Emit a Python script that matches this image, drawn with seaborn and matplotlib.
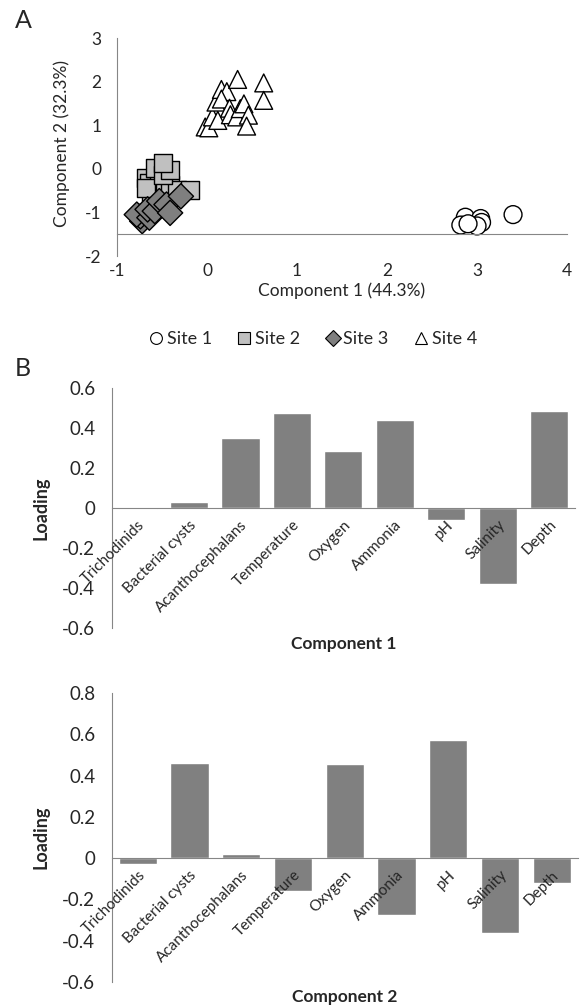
import matplotlib
matplotlib.use('Agg')
import matplotlib.pyplot as plt
import seaborn as sns
import pandas as pd
import numpy as np
from matplotlib.lines import Line2D
from matplotlib.ticker import FuncFormatter

# Panel A: PCA scores per site
site1_x = [2.87, 2.82, 3.04, 3.05, 3.40, 3.00, 2.90]
site1_y = [-1.11, -1.29, -1.14, -1.23, -1.05, -1.31, -1.26]
site2_x = [-0.68, -0.64, -0.62, -0.58, -0.53, -0.68, -0.47, -0.41, -0.33, -0.19, -0.58, -0.49, -0.41, -0.49]
site2_y = [-0.21, -0.33, -0.55, -0.44, -0.29, -0.44, -0.48, -0.36, -0.48, -0.48, 0.02, -0.14, -0.02, 0.13]
site3_x = [-0.72, -0.74, -0.78, -0.64, -0.66, -0.58, -0.53, -0.45, -0.41, -0.29]
site3_y = [-1.20, -1.09, -1.05, -1.12, -0.93, -0.97, -0.74, -0.82, -1.01, -0.63]
site4_x = [-0.02, 0.02, 0.06, 0.12, 0.10, 0.16, 0.22, 0.16, 0.25, 0.26, 0.33, 0.37, 0.41, 0.46, 0.44, 0.34, 0.63, 0.63]
site4_y = [0.96, 0.94, 1.19, 1.11, 1.53, 1.82, 1.77, 1.60, 1.39, 1.24, 1.19, 1.38, 1.49, 1.23, 0.98, 2.05, 1.97, 1.57]

sites = ['Site 1', 'Site 2', 'Site 3', 'Site 4']
site_colors = {'Site 1': 'white', 'Site 2': '#c0c0c0', 'Site 3': '#7f7f7f', 'Site 4': 'white'}
site_markers = {'Site 1': 'o', 'Site 2': 's', 'Site 3': 'D', 'Site 4': '^'}

# Panel B: loadings
variables = ['Trichodinids', 'Bacterial cysts', 'Acanthocephalans', 'Temperature',
             'Oxygen', 'Ammonia', 'pH', 'Salinity', 'Depth']
loading_c1 = [-0.005, 0.028, 0.352, 0.473, 0.287, 0.438, -0.058, -0.378, 0.483]
loading_c2 = [-0.028, 0.463, 0.021, -0.157, 0.458, -0.274, 0.571, -0.365, -0.122]

sns.set_style('white')
plt.rcParams['font.family'] = ['Lato', 'DejaVu Sans']
plt.rcParams['axes.unicode_minus'] = False
axis_grey = '#868686'

scores = pd.DataFrame({
    'pc1': site1_x + site2_x + site3_x + site4_x,
    'pc2': site1_y + site2_y + site3_y + site4_y,
    'site': ['Site 1'] * len(site1_x) + ['Site 2'] * len(site2_x)
            + ['Site 3'] * len(site3_x) + ['Site 4'] * len(site4_x),
})

fig = plt.figure(figsize=(5.8, 10.08), dpi=100)

# ---- Panel A: score plot
ax = fig.add_axes([0.2017, 0.746, 0.776, 0.2163])
sns.scatterplot(data=scores, x='pc1', y='pc2', hue='site', style='site',
                palette=site_colors, markers=site_markers, s=165,
                edgecolor='black', linewidth=1, legend=False, ax=ax)
ax.set_xlim(-1, 4)
ax.set_ylim(-2, 3)
ax.set_xticks(range(-1, 5))
ax.set_yticks(range(-2, 4))
for side in ['top', 'right']:
    ax.spines[side].set_visible(False)
ax.spines['bottom'].set_position(('data', -1.5))
for side in ['left', 'bottom']:
    ax.spines[side].set_color(axis_grey)
ax.tick_params(axis='both', direction='out', length=5, color=axis_grey, labelsize=12.5)
ax.tick_params(axis='x', pad=16)
ax.tick_params(axis='y', pad=6)
ax.set_xlabel('Component 1 (44.3%)', fontsize=12.5)
ax.set_ylabel('Component 2 (32.3%)', fontsize=12.5)
ax.xaxis.set_label_coords(0.5, -0.12)
ax.yaxis.set_label_coords(-0.105, 0.518)
fig.text(15 / 580, 1 - 20 / 1008, 'A', fontsize=18, ha='left', va='center')

handles = [Line2D([], [], linestyle='none', marker=site_markers[s], markersize=8.5,
                  markerfacecolor=site_colors[s], markeredgecolor='black',
                  markeredgewidth=0.8) for s in sites]
fig.legend(handles, sites, loc='center', bbox_to_anchor=(312 / 580, 1 - 339 / 1008),
           ncol=4, frameon=False, fontsize=13, handletextpad=0.1,
           columnspacing=1.3, handlelength=1.0)

fig.text(15 / 580, 1 - 368 / 1008, 'B', fontsize=18, ha='left', va='center')


def loading_panel(rect, values, ylim, yticks, xlabel, xlabel_y):
    bax = fig.add_axes(rect)
    sns.barplot(x=variables, y=values, color='#808080', saturation=1, width=0.74, ax=bax)
    bax.set_axisbelow(False)
    bax.set_xlim(-0.5, len(variables) - 0.5)
    bax.set_ylim(*ylim)
    bax.set_yticks(yticks)
    bax.yaxis.set_major_formatter(FuncFormatter(lambda v, p: '0' if abs(v) < 1e-9 else f'{v:.1f}'))
    for side in ['top', 'right']:
        bax.spines[side].set_visible(False)
    bax.spines['bottom'].set_position(('data', 0))
    for side in ['left', 'bottom']:
        bax.spines[side].set_color(axis_grey)
    bax.tick_params(axis='y', direction='out', length=4, color=axis_grey, labelsize=13.5, pad=8)
    bax.set_xticks(np.arange(len(variables)))
    bax.set_xticklabels(variables, rotation=45, ha='right', rotation_mode='anchor', fontsize=11)
    bax.tick_params(axis='x', which='major', length=0, pad=7)
    bax.set_xticks(np.arange(0.5, len(variables)), minor=True)
    bax.tick_params(axis='x', which='minor', direction='out', length=4, color=axis_grey)
    bax.set_ylabel('Loading', fontsize=13, fontweight='bold')
    bax.yaxis.set_label_coords(-0.135, 0.5)
    bax.set_xlabel(xlabel, fontsize=12.5, fontweight='bold')
    bax.xaxis.set_label_coords(0.5, xlabel_y)
    return bax


loading_panel([0.193, 0.377, 0.798, 0.238], loading_c1, (-0.6, 0.6),
              np.round(np.arange(-0.6, 0.61, 0.2), 1), 'Component 1', -0.035)
loading_panel([0.193, 0.0258, 0.803, 0.2867], loading_c2, (-0.6, 0.8),
              np.round(np.arange(-0.6, 0.81, 0.2), 1), 'Component 2', -0.025)

fig.savefig('out.png', dpi=100)
